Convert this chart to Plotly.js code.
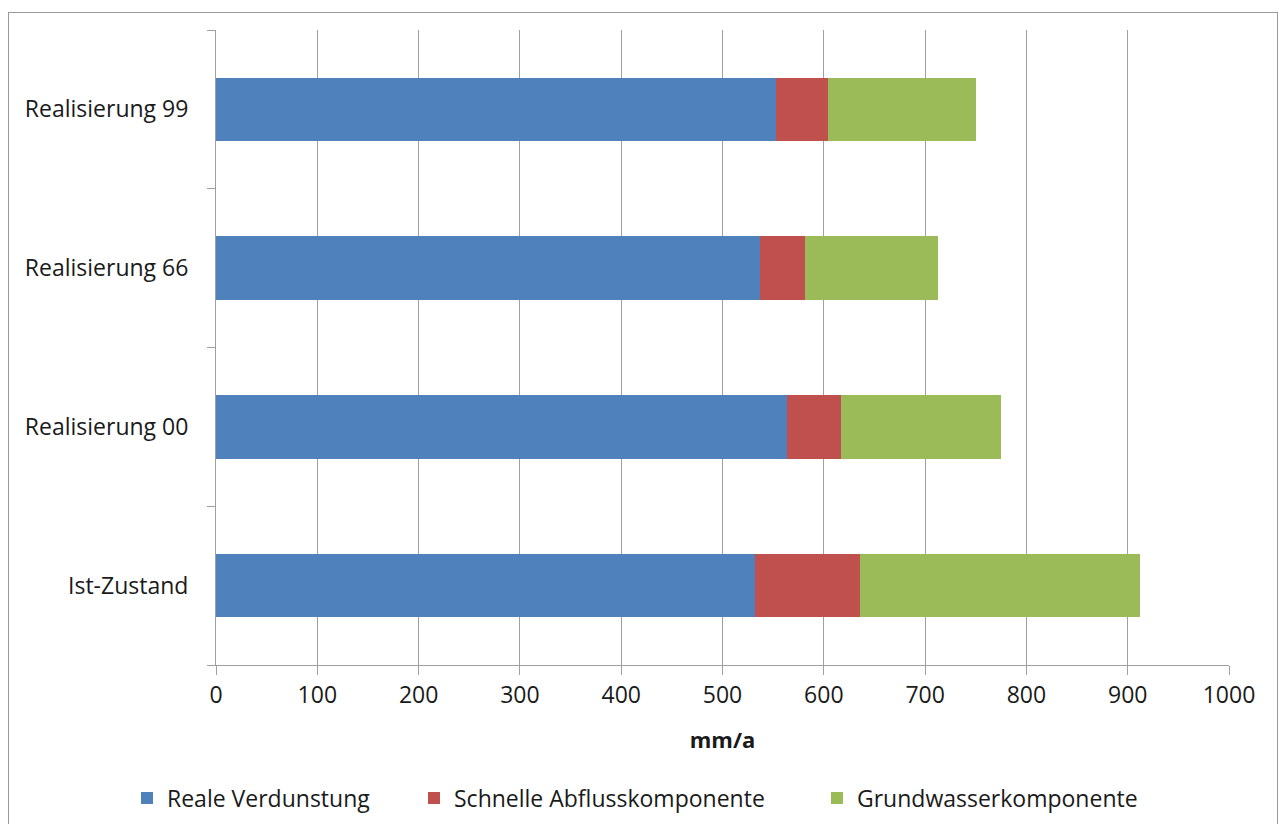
<!DOCTYPE html>
<html>
<head>
<meta charset="utf-8">
<script src="https://cdn.plot.ly/plotly-3.0.1.min.js"></script>
<style>
html,body{margin:0;padding:0;background:#fff;}
#chart{width:1279px;height:824px;}
#frame{position:absolute;left:8px;top:12px;width:1268px;height:830px;border:1px solid #9a9a9a;pointer-events:none;}
</style>
</head>
<body>
<div id="chart"></div>
<div id="frame"></div>
<script>
const categories = ["Ist-Zustand", "Realisierung 00", "Realisierung 66", "Realisierung 99"];
const seriesNames = ["Reale Verdunstung", "Schnelle Abflusskomponente", "Grundwasserkomponente"];
const realeVerdunstung = [532, 564, 537, 553];
const schnelleAbfluss = [104, 53, 44, 51];
const grundwasser = [276, 158, 132, 146];
const xTicks = [0, 100, 200, 300, 400, 500, 600, 700, 800, 900, 1000];
const colors = ["#4f81bd", "#c0504d", "#9bbb59"];

const font = "'Open Sans', Lato, sans-serif";
const fsize = 23;
const values = [realeVerdunstung, schnelleAbfluss, grundwasser];
const legendIds = ["legend", "legend2", "legend3"];
const legendX = [127, 414, 817];

const traces = values.map((v, i) => ({
  type: "bar",
  orientation: "h",
  name: seriesNames[i],
  x: v,
  y: categories,
  marker: {color: colors[i], line: {width: 0}},
  legend: legendIds[i],
  hoverinfo: "x+name"
}));

const legendBase = {
  orientation: "h",
  xref: "container", yref: "container",
  yanchor: "middle",
  y: 1 - 798/824,
  xanchor: "left",
  font: {family: font, size: fsize, color: "#1a1a1a"},
  bgcolor: "rgba(0,0,0,0)",
  itemwidth: 30,
  tracegroupgap: 0
};

const layout = {
  width: 1279, height: 824,
  margin: {l: 216, r: 50, t: 30, b: 159},
  paper_bgcolor: "#ffffff",
  plot_bgcolor: "#ffffff",
  barmode: "stack",
  bargap: 0.6,
  font: {family: font, size: fsize, color: "#1a1a1a"},
  showlegend: true,
  legend: Object.assign({}, legendBase, {x: legendX[0]/1279}),
  legend2: Object.assign({}, legendBase, {x: legendX[1]/1279}),
  legend3: Object.assign({}, legendBase, {x: legendX[2]/1279}),
  xaxis: {
    range: [0, 1000],
    tickvals: xTicks,
    ticktext: xTicks.map(String),
    showgrid: true,
    gridcolor: "#a0a0a0",
    gridwidth: 1,
    zeroline: false,
    showline: true,
    linecolor: "#a0a0a0",
    linewidth: 1,
    ticks: "outside",
    ticklen: 9,
    tickcolor: "#a0a0a0",
    tickfont: {family: font, size: fsize, color: "#1a1a1a"},
    title: {text: "<b>mm/a</b>", font: {family: font, size: fsize - 1, color: "#1a1a1a"}, standoff: 24},
    fixedrange: true
  },
  yaxis: {
    type: "category",
    categoryorder: "array",
    categoryarray: categories,
    showgrid: false,
    zeroline: false,
    showline: true,
    linecolor: "#a0a0a0",
    linewidth: 1,
    ticks: "outside",
    tickson: "boundaries",
    ticklen: 8,
    tickcolor: "#a0a0a0",
    ticklabelstandoff: 22,
    tickfont: {family: font, size: fsize, color: "#1a1a1a"},
    fixedrange: true
  }
};

Plotly.newPlot("chart", traces, layout, {displayModeBar: false, staticPlot: true});
</script>
</body>
</html>
